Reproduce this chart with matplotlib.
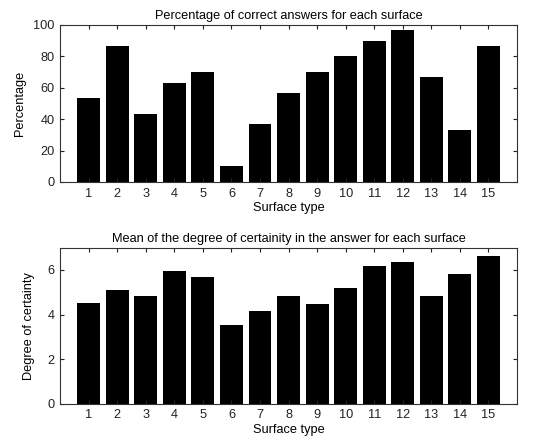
import numpy as np
import matplotlib.pyplot as plt

plt.rcParams['font.family'] = ['Liberation Sans', 'DejaVu Sans']

surface = np.arange(1, 16)
pct_correct = [53.3, 86.7, 43.3, 63.3, 70.0, 10.0, 36.7, 56.7, 70.0, 80.0, 90.0, 96.7, 66.7, 33.3, 86.7]
certainty = [4.52, 5.10, 4.82, 5.95, 5.67, 3.53, 4.17, 4.82, 4.46, 5.21, 6.18, 6.37, 4.83, 5.82, 6.62]

fs = 9.2

fig = plt.figure(figsize=(5.53, 4.46), dpi=100)
ax1 = fig.add_axes([0.1085, 0.592, 0.8265, 0.352])
ax2 = fig.add_axes([0.1085, 0.0948, 0.8265, 0.3498])

def style(ax):
    ax.set_xlim(0, 16)
    ax.set_xticks(surface)
    ax.tick_params(direction='in', length=3, width=0.8, top=True, right=True,
                   labelsize=fs, colors='#222222', pad=4)
    for s in ax.spines.values():
        s.set_linewidth(0.8)
        s.set_color('#333333')

ax1.bar(surface, pct_correct, width=0.8, color='black')
style(ax1)
ax1.set_ylim(0, 100)
ax1.set_yticks([0, 20, 40, 60, 80, 100])
ax1.set_title('Percentage of correct answers for each surface', fontsize=fs, pad=4)
ax1.set_xlabel('Surface type', fontsize=fs, labelpad=2)
ax1.set_ylabel('Percentage', fontsize=fs, labelpad=5)

ax2.bar(surface, certainty, width=0.8, color='black')
style(ax2)
ax2.set_ylim(0, 7)
ax2.set_yticks([0, 2, 4, 6])
ax2.set_title('Mean of the degree of certainity in the answer for each surface', fontsize=fs, pad=4)
ax2.set_xlabel('Surface type', fontsize=fs, labelpad=2)
ax2.set_ylabel('Degree of certainty', fontsize=fs, labelpad=9)

fig.savefig('out.png', dpi=100)
